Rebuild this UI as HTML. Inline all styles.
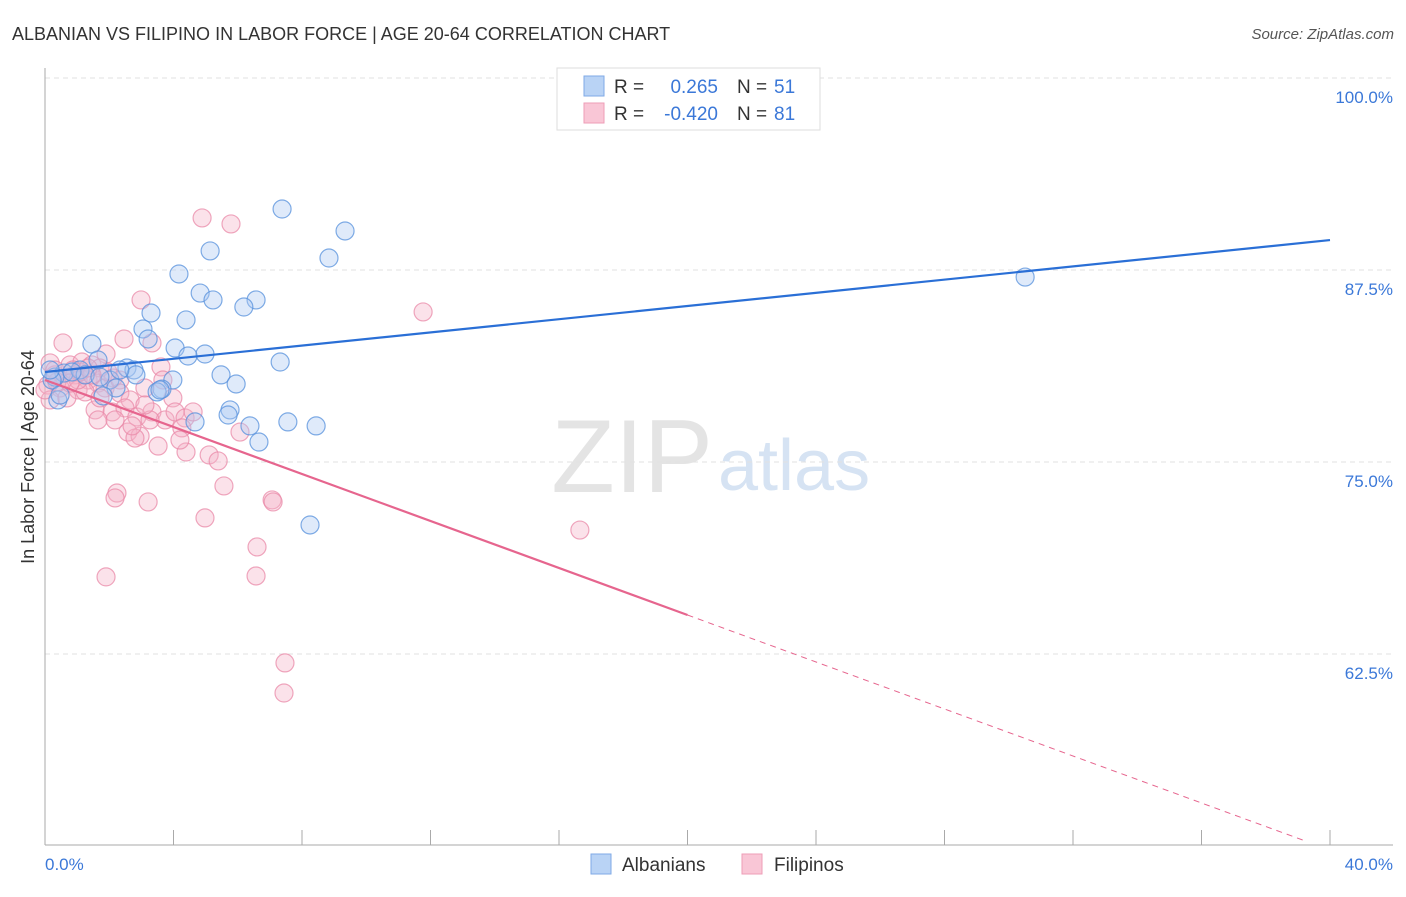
<!DOCTYPE html>
<html><head><meta charset="utf-8"><style>
body{margin:0;background:#fff;font-family:"Liberation Sans",sans-serif}
svg text{font-family:"Liberation Sans",sans-serif}
</style></head><body>
<svg width="1406" height="892" id="chart">
<text x="12" y="40" font-size="18" fill="#333">ALBANIAN VS FILIPINO IN LABOR FORCE | AGE 20-64 CORRELATION CHART</text>
<text x="1394" y="39" font-size="15" fill="#555" font-style="italic" text-anchor="end">Source: ZipAtlas.com</text>
<text x="713" y="492" font-size="104" fill="#e4e4e4" text-anchor="end" font-family="Liberation Serif">ZIP</text>
<text x="718" y="490" font-size="72" fill="#d6e3f3">atlas</text>
<g id="grid"></g><g id="axes"></g><g id="pts"></g><g id="trend"></g>
<text transform="translate(34,457) rotate(-90)" font-size="18" fill="#333" text-anchor="middle">In Labor Force | Age 20-64</text>
<text x="45" y="870" font-size="17" fill="#3b78d8">0.0%</text>
<text x="1393" y="870" font-size="17" fill="#3b78d8" text-anchor="end">40.0%</text>
<g>
<rect x="557" y="68" width="263" height="62" fill="#fff" stroke="#ddd"/>
<rect x="584" y="76" width="20" height="20" fill="#b9d3f5" stroke="#7fa9e6"/>
<rect x="584" y="103" width="20" height="20" fill="#f9c6d6" stroke="#ee9db7"/>
<text x="614" y="93" font-size="19" fill="#333">R =</text><text x="718" y="93" font-size="19" fill="#3b78d8" text-anchor="end">0.265</text>
<text x="737" y="93" font-size="19" fill="#333">N =</text><text x="774" y="93" font-size="19" fill="#3b78d8">51</text>
<text x="614" y="120" font-size="19" fill="#333">R =</text><text x="718" y="120" font-size="19" fill="#3b78d8" text-anchor="end">-0.420</text>
<text x="737" y="120" font-size="19" fill="#333">N =</text><text x="774" y="120" font-size="19" fill="#3b78d8">81</text>
</g>
<g>
<rect x="591" y="854" width="20" height="20" fill="#b9d3f5" stroke="#7fa9e6"/><text x="622" y="871" font-size="19" fill="#333">Albanians</text>
<rect x="742" y="854" width="20" height="20" fill="#f9c6d6" stroke="#ee9db7"/><text x="774" y="871" font-size="19" fill="#333">Filipinos</text>
</g>
</svg>
<script>
const yTicks=[100,87.5,75,62.5];
const yTickLabels=["100.0%","87.5%","75.0%","62.5%"];
const xTicks=[0,4,8,12,16,20,24,28,32,36,40];
const blueX=[7.38,9.34,5.14,8.84,4.17,4.83,5.23,6.57,6.19,4.39,3.30,3.05,1.46,3.21,4.05,4.98,4.45,1.65,7.32,2.55,2.77,0.59,1.09,0.31,3.98,2.02,5.48,5.95,2.83,2.21,3.64,3.49,1.81,0.40,5.76,5.70,4.67,6.38,7.56,8.44,6.66,8.25,30.51,0.22,1.25,0.84,2.33,0.16,3.58,1.71,0.47];
const blueY=[91.47,90.04,88.74,88.28,87.24,86.00,85.55,85.55,85.09,84.25,84.70,83.66,82.68,83.01,82.42,82.03,81.90,81.64,81.51,81.12,80.99,80.79,80.99,80.53,80.34,80.34,80.67,80.08,80.67,79.82,79.75,79.56,79.30,79.04,78.39,78.06,77.61,77.35,77.61,77.35,76.30,70.90,87.04,80.34,80.67,80.86,80.99,80.99,79.69,80.53,79.36];
const pinkX=[4.89,5.79,2.99,11.77,0.56,2.46,3.33,1.90,3.61,0.16,0.78,1.15,1.46,1.71,0.31,0.62,0.93,1.34,1.65,2.12,0.09,0.47,1.03,1.87,2.33,3.11,3.98,2.33,2.65,1.56,2.09,1.65,2.49,2.86,3.33,3.74,4.05,4.36,4.61,2.18,2.58,2.96,2.80,3.52,4.26,4.39,5.11,5.39,6.07,5.57,2.24,2.18,3.21,4.98,7.07,7.10,16.65,6.60,1.90,6.57,7.47,7.44,0.16,0.00,0.31,0.87,1.25,1.96,0.68,1.03,3.27,3.67,2.71,3.11,4.20,1.09,0.37,1.46,0.78,1.34,1.71];
const pinkY=[90.89,90.50,85.55,84.77,82.75,83.01,82.75,82.03,81.19,81.45,81.32,81.51,81.32,81.12,80.67,80.47,80.67,80.34,80.14,80.47,80.01,79.82,79.69,79.82,80.34,79.82,79.17,79.49,79.04,78.39,78.26,77.74,78.52,77.93,78.26,77.74,78.26,77.87,78.26,77.74,76.95,76.69,76.56,76.04,77.22,75.65,75.46,75.07,76.95,73.44,72.98,72.66,72.40,71.36,72.53,72.40,70.57,69.47,67.52,67.58,61.92,59.96,79.04,79.69,80.99,80.99,79.56,80.86,79.17,80.34,77.74,80.34,77.35,78.71,76.43,80.86,80.21,80.67,80.14,81.12,79.17];
const blueTrend=[80.86,89.45];
const pinkTrend=[80.34,65.04];
const NS="http://www.w3.org/2000/svg";
const X=v=>45+v/40*1285, Y=v=>78+(100-v)/12.5*192;
function mk(t,a,p){const e=document.createElementNS(NS,t);for(const k in a)e.setAttribute(k,a[k]);document.getElementById(p).appendChild(e);return e;}
yTicks.forEach((t,i)=>{
 const l=mk('line',{x1:45,x2:1393,y1:Y(t),y2:Y(t),stroke:'#e2e2e2','stroke-dasharray':'5,4'},'grid');
 
 
 const tx=mk('text',{x:1393,y:Y(t)+25,'font-size':17,fill:'#3b78d8','text-anchor':'end'},'grid');
 tx.textContent=yTickLabels[i];
 
 
});
let a=mk('line',{x1:45,x2:45,y1:68,y2:845,stroke:'#aaa'},'axes');


a=mk('line',{x1:45,x2:1393,y1:845,y2:845,stroke:'#aaa'},'axes');


xTicks.forEach(t=>{const l=mk('line',{x1:X(t),x2:X(t),y1:830,y2:845,stroke:'#aaa'},'axes');
 
 });
function pts(xs,ys,f,s,n){xs.forEach((x,i)=>{const c=mk('circle',{cx:X(x),cy:Y(ys[i]),r:9,fill:f,'fill-opacity':0.38,stroke:s,'stroke-opacity':0.75,'stroke-width':1.2},'pts');
 
 });}
pts(pinkX,pinkY,'#f5b3c7','#ea8aa8','filipino-point');
pts(blueX,blueY,'#aac9f1','#5590dc','albanian-point');
let t=mk('line',{x1:X(0),y1:Y(blueTrend[0]),x2:X(40),y2:Y(blueTrend[1]),stroke:'#2a6fd6','stroke-width':2.2},'trend');


t=mk('line',{x1:X(0),y1:Y(pinkTrend[0]),x2:X(20),y2:Y(pinkTrend[1]),stroke:'#e6658e','stroke-width':2.2},'trend');


const slope=(pinkTrend[1]-pinkTrend[0])/20, xe=39.2;
t=mk('line',{x1:X(20),y1:Y(pinkTrend[1]),x2:X(xe),y2:Y(pinkTrend[0]+slope*xe),stroke:'#e6658e','stroke-width':1,'stroke-dasharray':'6,5'},'trend');


</script>
</body></html>
